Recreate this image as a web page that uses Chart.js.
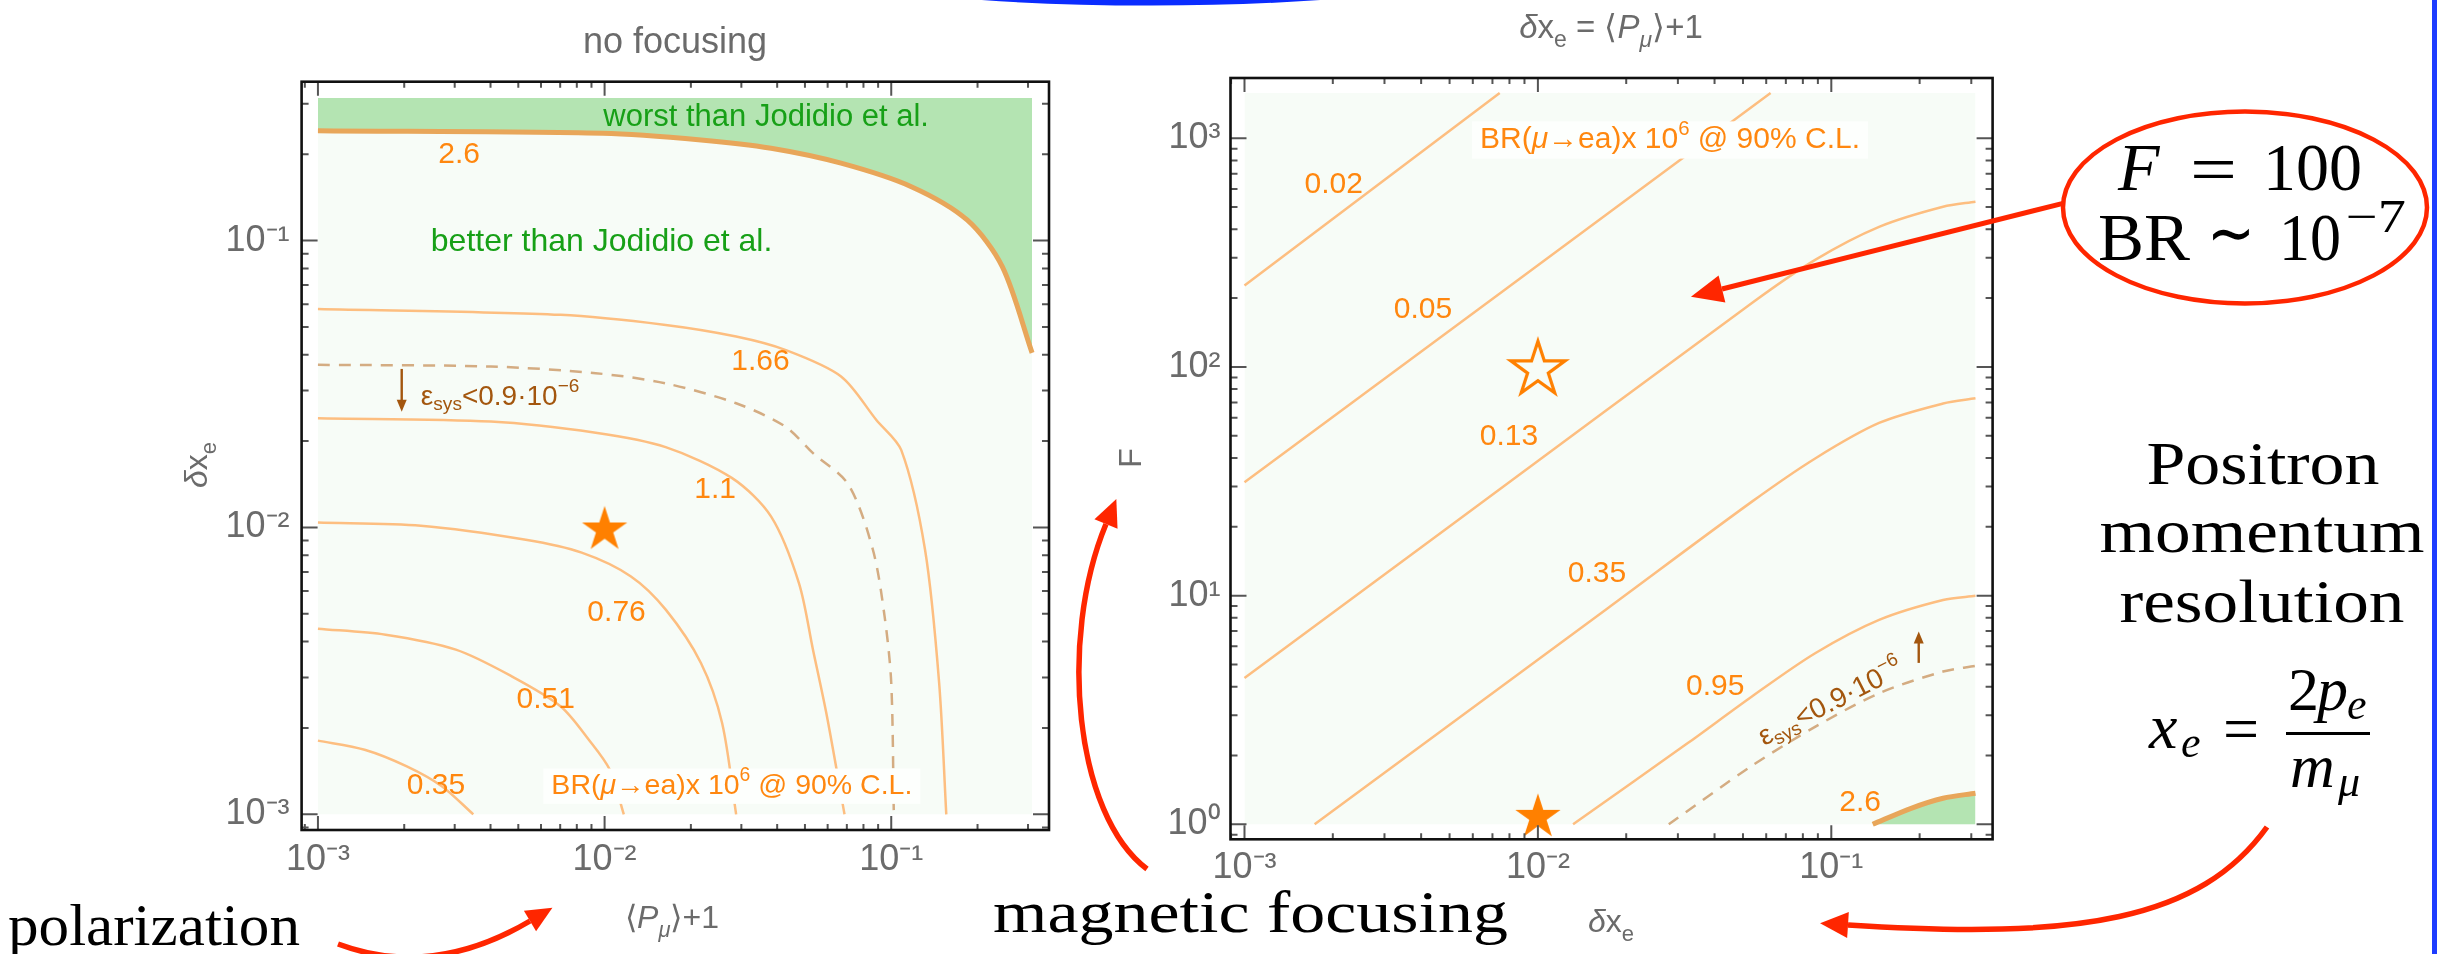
<!DOCTYPE html>
<html>
<head>
<meta charset="utf-8">
<title>BR(μ→ea) reach: polarization and magnetic focusing</title>
<script src="https://cdn.jsdelivr.net/npm/chart.js@4.4.1/dist/chart.umd.min.js"></script>
<style>
  html, body { margin:0; padding:0; background:#ffffff; }
  body { position:relative; width:2460px; height:954px; overflow:hidden; }
  canvas { position:absolute; top:0; }
  #left { left:0; }
  #right { left:1100px; }
  #overlay { position:absolute; left:0; top:0; pointer-events:none; }
</style>
</head>
<body>
<canvas id="left" width="1100" height="954"></canvas>
<canvas id="right" width="1000" height="954"></canvas>
<svg id="overlay" width="2460" height="954" xmlns="http://www.w3.org/2000/svg"></svg>
<script>
// ================= DATA =================
// Left panel: "no focusing", x = <P_mu>+1, y = delta x_e
const leftXTicks = [1e-3, 1e-2, 1e-1];
const leftXTickLabels = ['10⁻³', '10⁻²', '10⁻¹'];
const leftYTicks = [1e-3, 1e-2, 1e-1];
const leftYTickLabels = ['10⁻³', '10⁻²', '10⁻¹'];
const leftLevels = ['2.6', '1.66', '1.1', '0.76', '0.51', '0.35'];

const left26X  = [0.001, 0.00984, 0.0217, 0.0381, 0.0668, 0.1175, 0.184, 0.244, 0.31];
const left26Y  = [0.2415, 0.2366, 0.2244, 0.2099, 0.1862, 0.1542, 0.118, 0.0811, 0.0406];
const left166X = [0.001, 0.00703, 0.01633, 0.02877, 0.04266, 0.06683, 0.08872, 0.1084, 0.1312, 0.1469, 0.1556];
const left166Y = [0.0578, 0.0551, 0.0508, 0.0463, 0.0416, 0.0336, 0.0237, 0.0186, 0.00836, 0.00288, 0.001];
const left11X  = [0.001, 0.00401, 0.00931, 0.01633, 0.02786, 0.03811, 0.04764, 0.05333, 0.0597, 0.0687];
const left11Y  = [0.02404, 0.02339, 0.02138, 0.01905, 0.01486, 0.01091, 0.0064, 0.00375, 0.00219, 0.001];
const left076X = [0.001, 0.002286, 0.00531, 0.00832, 0.01236, 0.01637, 0.02168, 0.0257, 0.02877];
const left076Y = [0.0104, 0.01014, 0.00906, 0.00817, 0.00675, 0.00516, 0.00337, 0.00208, 0.001];
const left051X = [0.001, 0.001722, 0.003027, 0.004742, 0.00703, 0.00881, 0.01042, 0.01167];
const left051Y = [0.004436, 0.004227, 0.00375, 0.003027, 0.002377, 0.00182, 0.001432, 0.001];
const left035X = [0.001, 0.001455, 0.002042, 0.002704, 0.003483];
const left035Y = [0.001807, 0.001679, 0.001469, 0.001253, 0.001];
const leftSysX = [0.001, 0.00401, 0.00931, 0.01633, 0.02877, 0.04266, 0.05333, 0.0708, 0.0863, 0.0948, 0.1, 0.1021];
const leftSysY = [0.0369, 0.0364, 0.0345, 0.0318, 0.0271, 0.02249, 0.01816, 0.01413, 0.00836, 0.0049, 0.00287, 0.001];
const leftRegionX = [0.001, 0.31];
const leftRegionY = [0.001, 0.314];
const leftStarX = [0.01];
const leftStarY = [0.01];

// Right panel: delta x_e = <P_mu>+1, y = focusing factor F
const rightXTicks = [1e-3, 1e-2, 1e-1];
const rightXTickLabels = ['10⁻³', '10⁻²', '10⁻¹'];
const rightYTicks = [1, 10, 100, 1000];
const rightYTickLabels = ['10⁰', '10¹', '10²', '10³'];
const rightLevels = ['0.02', '0.05', '0.13', '0.35', '0.95', '2.6'];

const right002X = [0.001, 0.00741];
const right002Y = [227, 1578];
const right005X = [0.001, 0.0621];
const right005Y = [31.3, 1578];
const right013X = [0.001, 0.00535, 0.0535, 0.0881, 0.1455, 0.2404, 0.31];
const right013Y = [4.36, 21.4, 190, 294, 410, 502, 528];
const right035X = [0.001734, 0.0173, 0.0535, 0.0881, 0.1455, 0.2404, 0.31];
const right035Y = [1, 8.81, 25.7, 39.8, 56.9, 69.2, 72.9];
const right095X = [0.01318, 0.03243, 0.0535, 0.0881, 0.1455, 0.2404, 0.31];
const right095Y = [1, 2.265, 3.614, 5.598, 7.834, 9.572, 9.977];
const right26X  = [0.1384, 0.1871, 0.2404, 0.31];
const right26Y  = [1, 1.175, 1.30, 1.368];
const rightSysX = [0.02793, 0.0535, 0.0883, 0.1455, 0.2404, 0.31];
const rightSysY = [1, 1.799, 2.673, 3.741, 4.656, 4.932];
const rightRegionX = [0.001, 0.31];
const rightRegionY = [1, 1578];
const rightOpenStarX = [0.01];
const rightOpenStarY = [100];
const rightStarX = [0.01];
const rightStarY = [1.1];

// label anchors (data coordinates)
const leftLevelLabelX = [0.00311, 0.035, 0.0243, 0.01101, 0.00623, 0.00258];
const leftLevelLabelY = [0.199, 0.0378, 0.01353, 0.00505, 0.00251, 0.00126];
const rightLevelLabelX = [0.002015, 0.00406, 0.00797, 0.0159, 0.0402, 0.1253];
const rightLevelLabelY = [625, 177.6, 49.6, 12.5, 3.977, 1.237];

// ================= STYLE =================
const ORANGE = '#ff870f';
const CONTOUR = 'rgb(253,190,128)';
const CONTOUR26 = 'rgb(232,166,90)';
const DASH = 'rgb(212,172,130)';
const BROWN = '#a3560e';
const GREENTXT = '#17a017';
const BG = '#f7fcf7';
const GREENFILL = '#b4e4b2';
const TICKCOLOR = '#6b6b6b';
const SANS = '"Liberation Sans", Arial, Helvetica, sans-serif';

const pts = (xs, ys) => xs.map((x, i) => ({ x: x, y: ys[i] }));

function makeStar(size, R, fill, stroke, lw) {
  const c = document.createElement('canvas');
  c.width = size; c.height = size;
  const g = c.getContext('2d');
  const cx = size / 2, cy = size / 2 + 0.0955 * R, r = R * 0.382;
  g.beginPath();
  for (let i = 0; i < 10; i++) {
    const a = -Math.PI / 2 + i * Math.PI / 5, rad = (i % 2 === 0) ? R : r;
    g.lineTo(cx + rad * Math.cos(a), cy + rad * Math.sin(a));
  }
  g.closePath();
  if (fill) { g.fillStyle = fill; g.fill(); }
  if (stroke) { g.strokeStyle = stroke; g.lineWidth = lw; g.lineJoin = 'miter'; g.stroke(); }
  return c;
}
const filledStar = makeStar(54, 23.8, '#ff8000', null, 0);
const openStar = makeStar(66, 28.5, BG, '#ff8000', 3.2);

function lineDS(data, color, width, extra) {
  return Object.assign({ data: data, borderColor: color, borderWidth: width, pointRadius: 0,
    fill: false, tension: 0.3, order: 10, backgroundColor: 'rgba(0,0,0,0)' }, extra || {});
}
const invisible = (data, order) => ({ data: data, borderColor: 'rgba(0,0,0,0)', borderWidth: 1,
  pointRadius: 0, fill: false, order: order, backgroundColor: 'rgba(0,0,0,0)' });

// ---------- plugins ----------
const framePlugin = {
  id: 'mframe',
  afterDatasetsDraw(chart) {
    const { ctx, chartArea: a, scales } = chart;
    ctx.save();
    ctx.strokeStyle = '#555'; ctx.lineWidth = 2;
    const ticks = (s, horiz, maj, min) => {
      const lo = Math.floor(Math.log10(s.min)), hi = Math.ceil(Math.log10(s.max));
      for (let d = lo; d <= hi; d++) for (let m = 1; m <= 9; m++) {
        const v = m * Math.pow(10, d);
        if (v < s.min || v > s.max) continue;
        const p = s.getPixelForValue(v), len = (m === 1) ? maj : min;
        ctx.beginPath();
        if (horiz) { ctx.moveTo(p, a.bottom); ctx.lineTo(p, a.bottom - len); ctx.moveTo(p, a.top); ctx.lineTo(p, a.top + len); }
        else { ctx.moveTo(a.left, p); ctx.lineTo(a.left + len, p); ctx.moveTo(a.right, p); ctx.lineTo(a.right - len, p); }
        ctx.stroke();
      }
    };
    ticks(scales.x, true, 14, 6);
    ticks(scales.y, false, 16, 7);
    ctx.strokeStyle = '#111'; ctx.lineWidth = 2.6;
    ctx.strokeRect(a.left, a.top, a.right - a.left, a.bottom - a.top);
    ctx.restore();
  }
};

function makeLabelPlugin(items) {
  return {
    id: 'annot',
    afterDatasetsDraw(chart) {
      const { ctx, scales } = chart, xs = scales.x, ys = scales.y;
      ctx.save();
      ctx.textBaseline = 'middle'; ctx.textAlign = 'left';
      for (const it of items) {
        const px = xs.getPixelForValue(it.x);
        if (it.kind === 'arrow') {
          const p1 = ys.getPixelForValue(it.y1), p2 = ys.getPixelForValue(it.y2);
          const dir = Math.sign(p2 - p1);
          ctx.strokeStyle = it.color; ctx.fillStyle = it.color; ctx.lineWidth = 2.4;
          ctx.beginPath(); ctx.moveTo(px, p1); ctx.lineTo(px, p2 - dir * 9); ctx.stroke();
          ctx.beginPath(); ctx.moveTo(px, p2); ctx.lineTo(px - 5, p2 - dir * 12); ctx.lineTo(px + 5, p2 - dir * 12); ctx.closePath(); ctx.fill();
          continue;
        }
        const py = ys.getPixelForValue(it.y);
        ctx.save();
        ctx.translate(px, py);
        if (it.angle) ctx.rotate(it.angle * Math.PI / 180);
        const segs = it.segs || [{ t: it.text }];
        let total = 0; const parts = [];
        for (const s of segs) {
          const fs = (s.sub || s.sup) ? it.size * 0.68 : it.size;
          const font = (s.it ? 'italic ' : '') + fs + 'px ' + SANS;
          ctx.font = font;
          const w = ctx.measureText(s.t).width;
          parts.push({ s: s, font: font, w: w }); total += w;
        }
        let cx = (it.align === 'left') ? 0 : -total / 2;
        if (it.box) {
          ctx.fillStyle = it.box;
          ctx.fillRect(cx - 8, -it.size * 0.62, total + 16, it.size * 1.24);
        }
        ctx.fillStyle = it.color;
        for (const p of parts) {
          ctx.font = p.font;
          const dy = p.s.sub ? it.size * 0.28 : (p.s.sup ? -it.size * 0.36 : 0);
          ctx.fillText(p.s.t, cx, dy);
          cx += p.w;
        }
        ctx.restore();
      }
      ctx.restore();
    }
  };
}

const sysSegs = [{ t: 'ε' }, { t: 'sys', sub: true }, { t: '<0.9·10' }, { t: '−6', sup: true }];
const brSegs = [{ t: 'BR(' }, { t: 'μ', it: true }, { t: '→ea)x 10' }, { t: '6', sup: true }, { t: ' @ 90% C.L.' }];

const leftItems = leftLevels.map((t, i) => ({ text: t, x: leftLevelLabelX[i], y: leftLevelLabelY[i], size: 30, color: ORANGE }))
  .concat([
    { text: 'worst than Jodidio et al.', x: 0.0366, y: 0.2677, size: 31, color: GREENTXT },
    { text: 'better than Jodidio et al.', x: 0.00976, y: 0.0984, size: 32, color: GREENTXT },
    { segs: sysSegs, x: 0.002286, y: 0.02853, size: 28, color: BROWN, align: 'left' },
    { kind: 'arrow', x: 0.00196, y1: 0.0357, y2: 0.0253, color: BROWN },
    { segs: brSegs, x: 0.0278, y: 0.001253, size: 28.5, color: ORANGE, box: '#fdfffd' }
  ]);

const rightItems = rightLevels.map((t, i) => ({ text: t, x: rightLevelLabelX[i], y: rightLevelLabelY[i], size: 30, color: ORANGE }))
  .concat([
    { segs: brSegs, x: 0.0282, y: 983, size: 30, color: ORANGE, box: '#fdfffd' },
    { segs: sysSegs, x: 0.0998, y: 3.385, size: 28, color: BROWN, angle: -27 },
    { kind: 'arrow', x: 0.1986, y1: 5.08, y2: 6.96, color: BROWN }
  ]);

function makeChart(id, cfg) {
  const tickFont = { family: SANS, size: 36 };
  return new Chart(document.getElementById(id), {
    type: 'line',
    data: { datasets: cfg.datasets },
    options: {
      responsive: false, animation: false, devicePixelRatio: 1, events: [],
      layout: { autoPadding: false, padding: { left: 0, right: cfg.padRight, top: cfg.padTop, bottom: 0 } },
      plugins: { legend: { display: false }, tooltip: { enabled: false }, title: { display: false } },
      scales: {
        x: {
          type: 'logarithmic', position: 'bottom', min: cfg.xMin, max: cfg.xMax,
          grid: { display: false, drawTicks: false }, border: { display: false },
          afterBuildTicks: s => { s.ticks = cfg.xTicks.map(v => ({ value: v })); },
          afterFit: s => { s.height = cfg.xAxisH; },
          ticks: { callback: (v, i) => cfg.xTickLabels[i], font: tickFont, color: TICKCOLOR,
                   padding: cfg.xPad, autoSkip: false, maxRotation: 0, minRotation: 0 }
        },
        y: {
          type: 'logarithmic', position: 'left', min: cfg.yMin, max: cfg.yMax,
          grid: { display: false, drawTicks: false }, border: { display: false },
          afterBuildTicks: s => { s.ticks = cfg.yTicks.map(v => ({ value: v })); },
          afterFit: s => { s.width = cfg.yAxisW; },
          ticks: { callback: (v, i) => cfg.yTickLabels[i], font: tickFont, color: TICKCOLOR,
                   padding: cfg.yPad, autoSkip: false }
        }
      }
    },
    plugins: [framePlugin, makeLabelPlugin(cfg.items)]
  });
}

// ---------- left chart ----------
makeChart('left', {
  datasets: [
    Object.assign(invisible(pts(leftRegionX, [leftRegionY[1], leftRegionY[1]]), 100), { fill: 1, backgroundColor: BG }),
    invisible(pts(leftRegionX, [leftRegionY[0], leftRegionY[0]]), 100),
    lineDS(pts(left26X, left26Y), CONTOUR26, 5, { fill: 0, backgroundColor: GREENFILL, order: 50 }),
    lineDS(pts(left166X, left166Y), CONTOUR, 2.5),
    lineDS(pts(left11X, left11Y), CONTOUR, 2.5),
    lineDS(pts(left076X, left076Y), CONTOUR, 2.5),
    lineDS(pts(left051X, left051Y), CONTOUR, 2.5),
    lineDS(pts(left035X, left035Y), CONTOUR, 2.5),
    lineDS(pts(leftSysX, leftSysY), DASH, 2.5, { borderDash: [12, 9] }),
    { data: pts(leftStarX, leftStarY), showLine: false, pointRadius: 10, pointStyle: filledStar, order: 0 }
  ],
  xMin: 8.77e-4, xMax: 0.3551, yMin: 8.817e-4, yMax: 0.3581,
  xTicks: leftXTicks, xTickLabels: leftXTickLabels, yTicks: leftYTicks, yTickLabels: leftYTickLabels,
  padRight: 51, padTop: 81.7, xAxisH: 124, yAxisW: 301.6, xPad: 8, yPad: 12,
  items: leftItems
});

// ---------- right chart ----------
makeChart('right', {
  datasets: [
    Object.assign(invisible(pts(rightRegionX, [rightRegionY[1], rightRegionY[1]]), 100), { fill: 1, backgroundColor: BG }),
    invisible(pts(rightRegionX, [rightRegionY[0], rightRegionY[0]]), 100),
    invisible(pts([right26X[0], right26X[right26X.length - 1]], [rightRegionY[0], rightRegionY[0]]), 60),
    lineDS(pts(right26X, right26Y), CONTOUR26, 5, { fill: 2, backgroundColor: GREENFILL, order: 50 }),
    lineDS(pts(right002X, right002Y), CONTOUR, 2.5),
    lineDS(pts(right005X, right005Y), CONTOUR, 2.5),
    lineDS(pts(right013X, right013Y), CONTOUR, 2.5),
    lineDS(pts(right035X, right035Y), CONTOUR, 2.5),
    lineDS(pts(right095X, right095Y), CONTOUR, 2.5),
    lineDS(pts(rightSysX, rightSysY), DASH, 2.5, { borderDash: [12, 9] }),
    { data: pts(rightOpenStarX, rightOpenStarY), showLine: false, pointRadius: 10, pointStyle: openStar, order: 0 },
    { data: pts(rightStarX, rightStarY), showLine: false, pointRadius: 10, pointStyle: filledStar, order: 0 }
  ],
  xMin: 8.96e-4, xMax: 0.3546, yMin: 0.8598, yMax: 1835,
  xTicks: rightXTicks, xTickLabels: rightXTickLabels, yTicks: rightYTicks, yTickLabels: rightYTickLabels,
  padRight: 107.4, padTop: 78, xAxisH: 114.7, yAxisW: 130.5, xPad: 7, yPad: 10,
  items: rightItems
});

// ================= OVERLAY (titles, slide annotations) =================
function arrowHead(ex, ey, dx, dy, len, hw) {
  const n = Math.hypot(dx, dy); dx /= n; dy /= n;
  const tx = ex + dx * len, ty = ey + dy * len, px = -dy, py = dx;
  return `<polygon points="${tx},${ty} ${ex + px * hw},${ey + py * hw} ${ex - px * hw},${ey - py * hw}" fill="#ff2600"/>`;
}
const RED = '#ff2600';
let s = '';
s += `<style>
 .ax{font-family:${SANS.replace(/"/g, "'")};fill:#6b6b6b;}
 .tx{font-family:'Liberation Serif','Times New Roman',serif;fill:#000;}
</style>`;
// blue slide decorations
s += `<ellipse cx="1151" cy="-60" rx="405" ry="62.5" fill="none" stroke="#0a2cff" stroke-width="6"/>`;
s += `<line x1="2434.5" y1="0" x2="2434.5" y2="954" stroke="#1e3cff" stroke-width="5"/>`;
// chart titles / axis titles
s += `<text class="ax" x="675" y="53" text-anchor="middle" font-size="36">no focusing</text>`;
s += `<text class="ax" x="1611" y="38" text-anchor="middle" font-size="33"><tspan font-style="italic">δ</tspan>x<tspan dy="9" font-size="23">e</tspan><tspan dy="-9"> = ⟨</tspan><tspan font-style="italic">P</tspan><tspan dy="9" font-size="23" font-style="italic">μ</tspan><tspan dy="-9">⟩+1</tspan></text>`;
s += `<text class="ax" x="672" y="928" text-anchor="middle" font-size="32">⟨<tspan font-style="italic">P</tspan><tspan dy="9" font-size="22" font-style="italic">μ</tspan><tspan dy="-9">⟩+1</tspan></text>`;
s += `<text class="ax" transform="translate(207,465) rotate(-90)" text-anchor="middle" font-size="32"><tspan font-style="italic">δ</tspan>x<tspan dy="9" font-size="22">e</tspan></text>`;
s += `<text class="ax" transform="translate(1141,458) rotate(-90)" text-anchor="middle" font-size="32">F</text>`;
s += `<text class="ax" x="1611" y="932" text-anchor="middle" font-size="32"><tspan font-style="italic">δ</tspan>x<tspan dy="9" font-size="22">e</tspan></text>`;
// slide text
s += `<text class="tx" x="8" y="945" font-size="60" textLength="292" lengthAdjust="spacingAndGlyphs">polarization</text>`;
s += `<text class="tx" x="993" y="932" font-size="60" textLength="515" lengthAdjust="spacingAndGlyphs">magnetic focusing</text>`;
s += `<text class="tx" x="2263" y="484" text-anchor="middle" font-size="62" textLength="233" lengthAdjust="spacingAndGlyphs">Positron</text>`;
s += `<text class="tx" x="2262" y="552" text-anchor="middle" font-size="62" textLength="325" lengthAdjust="spacingAndGlyphs">momentum</text>`;
s += `<text class="tx" x="2262" y="622" text-anchor="middle" font-size="62" textLength="285" lengthAdjust="spacingAndGlyphs">resolution</text>`;
// formula x_e = 2 p_e / m_mu
s += `<text class="tx" x="2149" y="748" font-size="64" font-style="italic">x</text>`;
s += `<text class="tx" x="2181" y="757" font-size="44" font-style="italic">e</text>`;
s += `<text class="tx" x="2223" y="750" font-size="64">=</text>`;
s += `<text class="tx" x="2288" y="710" font-size="62">2</text>`;
s += `<text class="tx" x="2317" y="710" font-size="62" font-style="italic">p</text>`;
s += `<text class="tx" x="2347" y="719" font-size="44" font-style="italic">e</text>`;
s += `<line x1="2286" y1="733.5" x2="2370" y2="733.5" stroke="#000" stroke-width="3"/>`;
s += `<text class="tx" x="2290" y="787" font-size="62" font-style="italic">m</text>`;
s += `<text class="tx" x="2338" y="796" font-size="44" font-style="italic">μ</text>`;
// ellipse callout
s += `<ellipse cx="2245" cy="207.5" rx="182" ry="96" fill="none" stroke="${RED}" stroke-width="4.5"/>`;
s += `<text class="tx" x="2118" y="190" font-size="68" font-style="italic">F</text>`;
s += `<text class="tx" x="2190" y="192" font-size="68" textLength="47" lengthAdjust="spacingAndGlyphs">=</text>`;
s += `<text class="tx" x="2263" y="190" font-size="68" textLength="99" lengthAdjust="spacingAndGlyphs">100</text>`;
s += `<text class="tx" x="2098" y="260" font-size="68" textLength="92" lengthAdjust="spacingAndGlyphs">BR</text>`;
s += `<text class="tx" x="2207" y="256" font-size="68" textLength="48" lengthAdjust="spacingAndGlyphs">∼</text>`;
s += `<text class="tx" x="2279" y="260" font-size="68" textLength="62" lengthAdjust="spacingAndGlyphs">10</text>`;
s += `<text class="tx" x="2346" y="232" font-size="46" textLength="60" lengthAdjust="spacingAndGlyphs">−7</text>`;
// red arrows
s += `<path d="M2063 203.3 L1722 289" stroke="${RED}" stroke-width="5" fill="none"/>` + arrowHead(1722, 289, -0.97, 0.2436, 32, 14);
s += `<path d="M338 944 Q432 979 530 921" stroke="${RED}" stroke-width="5.5" fill="none"/>` + arrowHead(530, 921, 85, -50, 26, 12);
s += `<path d="M1147 869 C1075 815 1058 640 1106 524" stroke="${RED}" stroke-width="5.5" fill="none"/>` + arrowHead(1106, 524, 48, -116, 27, 12.5);
s += `<path d="M2267 827 C2200 920 2080 940 1848 925" stroke="${RED}" stroke-width="5.5" fill="none"/>` + arrowHead(1848, 925, -232, -15, 28, 13);
document.getElementById('overlay').innerHTML = s;
</script>
</body>
</html>
